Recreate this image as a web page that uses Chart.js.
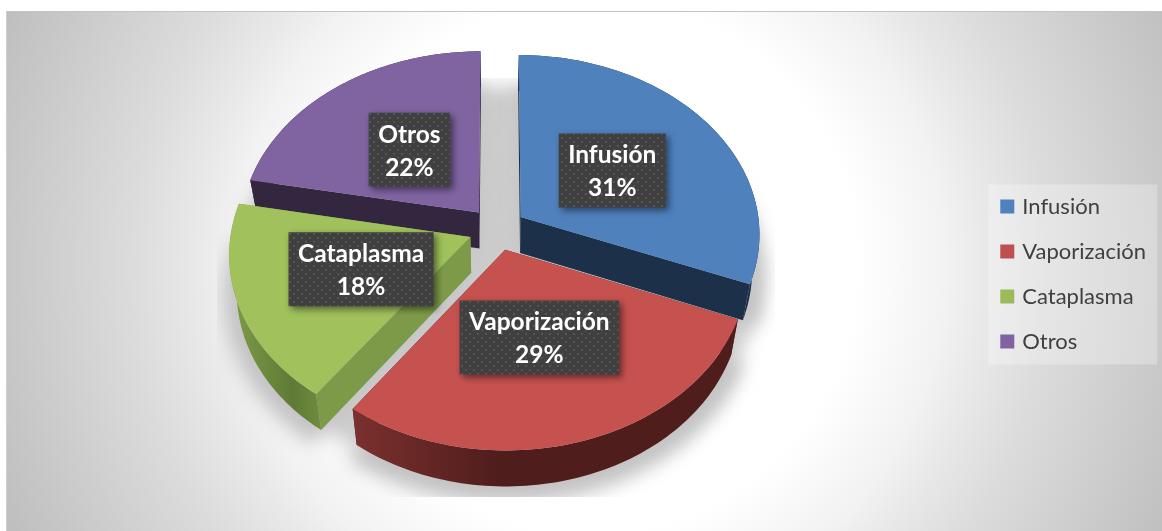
<!DOCTYPE html>
<html>
<head>
<meta charset="utf-8">
<script src="https://cdn.jsdelivr.net/npm/chart.js@4/dist/chart.umd.min.js"></script>
<style>
  html, body { margin: 0; padding: 0; background: #fff; overflow: hidden; }
  #wrap { position: relative; width: 1162px; height: 531px; }
  #bg {
    position: absolute; left: 6px; top: 11px; right: 0; bottom: 0;
    border-top: 1px solid #c4c4c4; border-left: 1px solid #d0d0d0;
    background: radial-gradient(circle 635px at 584px 254px, #fff 0%, #fff 42%, #f2f2f2 56%, #e9e9e9 62%, #dcdcdc 72%, #bfbfbf 100%);
  }
  canvas { position: absolute; left: 0; top: 0; }
</style>
</head>
<body>
<div id="wrap">
  <div id="bg"></div>
  <canvas id="myChart" width="1162" height="531"></canvas>
</div>
<script>
const categories = ["Infusión", "Vaporización", "Cataplasma", "Otros"];
const percentages = [31, 29, 18, 22];

const sliceColors = ["#4f81bd", "#c0504d", "#9bbb59", "#8064a2"];
const topColors = ["#4f81bd", "#c6524f", "#a0c15b", "#8064a2"];
const wallColors = ["#1c3149", "#4f1d1c", "#7d9a49", "#33263f"];
const drawOrder = [3, 0, 2, 1];

// fake 3d: the pie controller gives the angles, this squashes them
const SX = 0.93, SY = 0.695, PERSP = 0.09, LIFT = -45;
const EXPLODE = 0.12, DEPTH = 36, SHRINK = 0.028;

function project(el, a, r, mid, depth) {
  const nx = r * Math.cos(a) + EXPLODE * Math.cos(mid);
  const ny = r * Math.sin(a) + EXPLODE * Math.sin(mid);
  const w = 1 - PERSP * ny;
  const R = el.outerRadius;
  const x = R * SX * nx / w;
  const y = R * SY * ny / w;
  return { x: el.x + x * (1 - SHRINK * depth), y: el.y + LIFT + y + DEPTH * depth };
}

function fillPoly(ctx, pts, color) {
  ctx.beginPath();
  pts.forEach((p, i) => i ? ctx.lineTo(p.x, p.y) : ctx.moveTo(p.x, p.y));
  ctx.closePath();
  ctx.fillStyle = color;
  ctx.fill();
}

function arcPoints(el, mid, depth, r) {
  const pts = [];
  for (let i = 0; i <= 80; i++) {
    const a = el.startAngle + (el.endAngle - el.startAngle) * i / 80;
    pts.push(project(el, a, r, mid, depth));
  }
  return pts;
}

function outerWallColor(ctx, i) {
  if (i === 1) {
    const g = ctx.createLinearGradient(355, 0, 500, 0);
    g.addColorStop(0, "#7a302e");
    g.addColorStop(1, "#4f1d1c");
    return g;
  }
  if (i === 2) {
    const g = ctx.createLinearGradient(230, 0, 320, 0);
    g.addColorStop(0, "#7f9c49");
    g.addColorStop(0.7, "#5f7a35");
    g.addColorStop(1, "#6f8b3e");
    return g;
  }
  return wallColors[i];
}

function drawSlice(ctx, el, i) {
  const mid = (el.startAngle + el.endAngle) / 2;
  const top = arcPoints(el, mid, 0, 1);
  const bottom = arcPoints(el, mid, 1, 1);
  const apexTop = project(el, 0, 0, mid, 0);
  const apexBottom = project(el, 0, 0, mid, 1);
  fillPoly(ctx, [apexTop, top[0], bottom[0], apexBottom], wallColors[i]);
  fillPoly(ctx, [apexTop, top[80], bottom[80], apexBottom], wallColors[i]);
  fillPoly(ctx, top.concat(bottom.slice().reverse()), outerWallColor(ctx, i));
  fillPoly(ctx, [apexTop].concat(top), topColors[i]);
}

function drawShadow(ctx, arcs) {
  ctx.save();
  ctx.beginPath();
  ctx.rect(217, 78, 558, 419);
  ctx.clip();
  ctx.filter = "blur(9px)";
  const disc = [];
  for (let i = 0; i < 120; i++) disc.push(project(arcs[0], i * Math.PI / 60, 1.1, 0, 1));
  fillPoly(ctx, disc.map((p) => ({ x: p.x - 26, y: p.y })), "#cccccc");
  arcs.forEach((el) => {
    const mid = (el.startAngle + el.endAngle) / 2;
    const pts = arcPoints(el, mid, 1.1, 1.06);
    fillPoly(ctx, [project(el, 0, 0, mid, 1.1)].concat(pts), "#c4c4c4");
  });
  ctx.restore();
}

function dotPattern(ctx) {
  const c = document.createElement("canvas");
  c.width = 8; c.height = 8;
  const p = c.getContext("2d");
  p.fillStyle = "#404040";
  p.fillRect(0, 0, 8, 8);
  p.fillStyle = "#545454";
  p.fillRect(1, 1, 2, 2);
  p.fillRect(5, 5, 2, 2);
  return ctx.createPattern(c, "repeat");
}

const pie3d = {
  id: "pie3d",
  beforeDraw(chart) {
    const ctx = chart.ctx;
    drawShadow(ctx, chart.getDatasetMeta(0).data);
    // legend panel
    const b0 = chart.legend.legendHitBoxes[0];
    ctx.fillStyle = "rgba(255,255,255,0.28)";
    ctx.fillRect(b0.left - 15, b0.top + b0.height / 2 - 22, 169, 180);
  },
  beforeDatasetsDraw(chart) {
    const ctx = chart.ctx;
    const arcs = chart.getDatasetMeta(0).data;
    drawOrder.forEach((i) => drawSlice(ctx, arcs[i], i));
    const pattern = dotPattern(ctx);
    ctx.textAlign = "center";
    ctx.textBaseline = "middle";
    arcs.forEach((el, i) => {
      const mid = (el.startAngle + el.endAngle) / 2;
      const p = project(el, mid, 0.48, mid, 0);
      ctx.font = "bold 24.5px Lato";
      const w = ctx.measureText(categories[i]).width + 19;
      ctx.save();
      ctx.shadowColor = "rgba(0,0,0,0.5)";
      ctx.shadowBlur = 7;
      ctx.shadowOffsetX = 3;
      ctx.shadowOffsetY = 3;
      ctx.fillStyle = pattern;
      ctx.fillRect(p.x - w / 2, p.y - 37, w, 74);
      ctx.restore();
      ctx.fillStyle = "#fff";
      ctx.fillText(categories[i], p.x, p.y - 15);
      ctx.fillText(percentages[i] + "%", p.x, p.y + 18);
    });
    return false;
  }
};

new Chart(document.getElementById("myChart"), {
  type: "pie",
  data: {
    labels: categories,
    datasets: [{ data: percentages, backgroundColor: sliceColors, borderWidth: 0 }]
  },
  options: {
    responsive: false,
    animation: false,
    layout: { padding: { top: 17, left: 14, right: 6 } },
    plugins: {
      tooltip: { enabled: false },
      legend: {
        position: "right",
        labels: {
          boxWidth: 8,
          boxHeight: 8,
          color: "#404040",
          padding: 23,
          font: { family: "Lato", size: 22 },
          // thick outline makes the swatch 14px and keeps the text close to it
          generateLabels(chart) {
            return Chart.overrides.pie.plugins.legend.labels.generateLabels(chart)
              .map((l) => ({ ...l, lineWidth: 6, strokeStyle: l.fillStyle, lineJoin: "miter" }));
          }
        }
      }
    }
  },
  plugins: [pie3d]
});
</script>
</body>
</html>
